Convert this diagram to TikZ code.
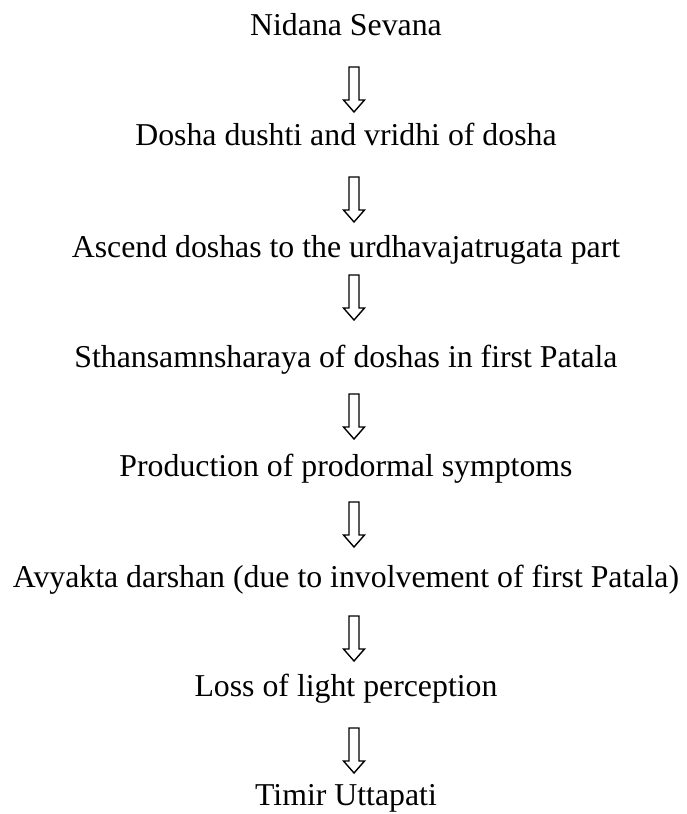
\documentclass[tikz,border=0pt]{standalone}
\usepackage{fontspec}
\setmainfont{Liberation Serif}
\begin{document}
\begin{tikzpicture}[x=1pt,y=1pt,
  lbl/.style={anchor=base, inner sep=0pt, font=\fontsize{31.8}{38}\selectfont},
  hollowarrow/.pic={\draw[line width=1.4pt, line join=miter, fill=white]
     (-5,0) -- (-5,-33) -- (-10.5,-33) -- (0,-45) -- (10.5,-33) -- (5,-33) -- (5,0) -- cycle;}]
\useasboundingbox (0,0) rectangle (687,-814);
\node[lbl] (n1) at (346,-35) {Nidana Sevana};
\node[lbl] (n2) at (346,-145.5) {Dosha dushti and vridhi of dosha};
\node[lbl] (n3) at (346,-257) {Ascend doshas to the urdhavajatrugata part};
\node[lbl] (n4) at (346,-367) {Sthansamnsharaya of doshas in first Patala};
\node[lbl] (n5) at (346,-476) {Production of prodormal symptoms};
\node[lbl] (n6) at (346,-587.5) {Avyakta darshan (due to involvement of first Patala)};
\node[lbl] (n7) at (346,-696) {Loss of light perception};
\node[lbl] (n8) at (346,-805) {Timir Uttapati};
\coordinate (a1) at (354,-67);
\coordinate (a2) at (354,-177);
\coordinate (a3) at (354,-275);
\coordinate (a4) at (354,-394);
\coordinate (a5) at (354,-502);
\coordinate (a6) at (354,-616);
\coordinate (a7) at (354,-728);
\foreach \a in {a1,a2,a3,a4,a5,a6,a7} { \pic at (\a) {hollowarrow}; }
\end{tikzpicture}
\end{document}
